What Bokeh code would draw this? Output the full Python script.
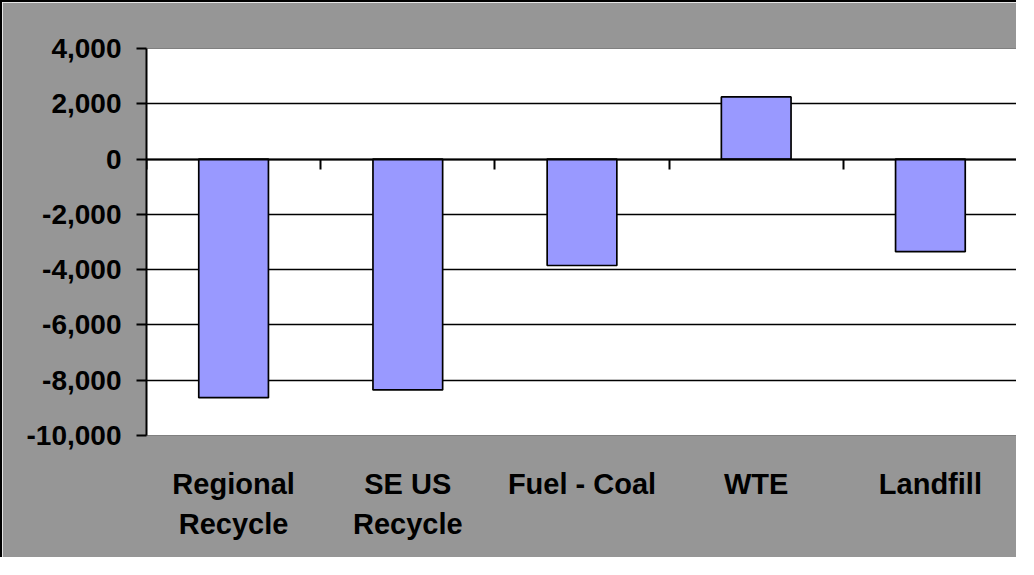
from bokeh.plotting import figure
from bokeh.models import LinearAxis, FixedTicker, NumeralTickFormatter, Range1d
from bokeh.embed import file_html
from bokeh.resources import INLINE

categories = ["Regional\nRecycle", "SE US\nRecycle", "Fuel - Coal", "WTE", "Landfill"]
values = [-8630, -8350, -3850, 2250, -3350]
y_ticks = [-10000, -8000, -6000, -4000, -2000, 0, 2000, 4000]
grid_ticks = [-8000, -6000, -4000, -2000, 0, 2000]

n = len(categories)
centers = [i + 0.5 for i in range(n)]
boundaries = list(range(n + 1))

p = figure(width=1016, height=557, output_backend="svg", toolbar_location=None,
           x_range=Range1d(0, n), y_range=Range1d(y_ticks[0], y_ticks[-1]),
           min_border_left=144, min_border_right=1, min_border_top=46, min_border_bottom=124,
           x_axis_location=None, y_axis_location=None)
p.styles = {"border-left": "2px solid black", "border-top": "2px solid black"}
p.border_fill_color = "#969696"
p.background_fill_color = "white"
p.outline_line_color = "#808080"
p.outline_line_width = 1

p.vbar(x=centers, top=values, bottom=0, width=0.4,
       fill_color="#9999FF", line_color="black", line_width=1.7)

font = "Liberation Sans"

yaxis = LinearAxis(ticker=FixedTicker(ticks=y_ticks),
                   formatter=NumeralTickFormatter(format="0,0"))
yaxis.axis_line_color = "black"
yaxis.axis_line_width = 2
yaxis.major_tick_line_color = "black"
yaxis.major_tick_line_width = 2
yaxis.major_tick_out = 10
yaxis.major_tick_in = 0
yaxis.minor_tick_line_color = None
yaxis.major_label_standoff = 15
yaxis.major_label_text_font = font
yaxis.major_label_text_font_style = "bold"
yaxis.major_label_text_font_size = "28px"
yaxis.major_label_text_color = "black"
p.add_layout(yaxis, "left")

xaxis = LinearAxis(ticker=FixedTicker(ticks=centers),
                   major_label_overrides={c: lab for c, lab in zip(centers, categories)})
xaxis.axis_line_color = None
xaxis.major_tick_line_color = None
xaxis.minor_tick_line_color = None
xaxis.major_label_standoff = 26
xaxis.major_label_text_font = font
xaxis.major_label_text_font_style = "bold"
xaxis.major_label_text_font_size = "29px"
xaxis.major_label_text_color = "black"
xaxis.major_label_text_line_height = 1.25
p.add_layout(xaxis, "below")

zaxis = LinearAxis(ticker=FixedTicker(ticks=boundaries), fixed_location=0)
zaxis.axis_line_color = "black"
zaxis.axis_line_width = 2
zaxis.major_tick_line_color = "black"
zaxis.major_tick_line_width = 2
zaxis.major_tick_out = 10
zaxis.major_tick_in = 0
zaxis.minor_tick_line_color = None
zaxis.major_label_text_font_size = "0px"
zaxis.major_label_text_color = None
p.add_layout(zaxis, "below")

p.xgrid.visible = False
p.ygrid.ticker = FixedTicker(ticks=grid_ticks)
p.ygrid.grid_line_color = "black"
p.ygrid.grid_line_width = 1.3

open("out.html", "w").write(file_html(p, INLINE))
